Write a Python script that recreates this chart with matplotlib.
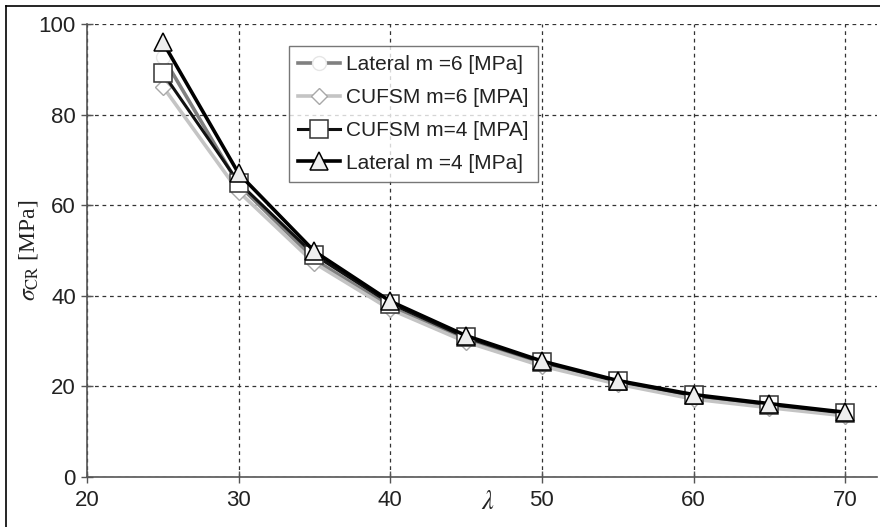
import matplotlib
matplotlib.use('Agg')
import matplotlib.pyplot as plt
from matplotlib.lines import Line2D

plt.rcParams['font.family'] = ['Liberation Sans', 'DejaVu Sans']
plt.rcParams['mathtext.fontset'] = 'stix'

# slenderness values on the x axis
lam = [25, 30, 35, 40, 45, 50, 55, 60, 65, 70]

# critical stresses [MPa]
lateral_m6 = [92.8, 64.5, 48.0, 37.5, 30.2, 25.0, 20.8, 17.6, 15.6, 13.8]
cufsm_m6 = [86.2, 63.0, 47.2, 37.0, 29.8, 24.5, 20.5, 17.2, 15.3, 13.5]
cufsm_m4 = [89.2, 65.0, 49.0, 38.3, 30.8, 25.4, 21.1, 18.0, 16.0, 14.1]
lateral_m4 = [96.0, 67.0, 49.8, 38.8, 31.2, 25.6, 21.3, 18.2, 16.2, 14.3]

labels = ['Lateral m =6 [MPa]', 'CUFSM m=6 [MPA]', 'CUFSM m=4 [MPA]', 'Lateral m =4 [MPa]']
xticks = [20, 30, 40, 50, 60, 70]
yticks = [0, 20, 40, 60, 80, 100]

fig = plt.figure(figsize=(8.8, 5.27), dpi=100)
ax = fig.add_axes([87/880, 1-477/527, 790/880, 453/527])

ax.plot(lam, lateral_m6, color='#808080', lw=2.6, marker='o', ms=10,
        mfc='white', mec='#e6e6e6', mew=1, label=labels[0])
ax.plot(lam, cufsm_m6, color='#c4c4c4', lw=2.6, marker='D', ms=8,
        mfc='white', mec='#a8a8a8', mew=1, label=labels[1])
ax.plot(lam, cufsm_m4, color='#111111', lw=2.2, marker='s', ms=13,
        mfc='white', mec='#333333', mew=1.1, label=labels[2])
ax.plot(lam, lateral_m4, color='black', lw=2.6, marker='^', ms=13,
        mfc='#eeeeee', mec='black', mew=1.1, label=labels[3])

ax.set_xlim(20, 72.1)
ax.set_ylim(0, 100)
ax.set_xticks(xticks)
ax.set_yticks(yticks)
ax.tick_params(direction='inout', length=8, width=1, color='#555555',
               labelsize=16, labelcolor='#222222')
ax.tick_params(axis='x', pad=5)
ax.tick_params(axis='y', pad=4)

for s in ['top', 'right']:
    ax.spines[s].set_visible(False)
for s in ['left', 'bottom']:
    ax.spines[s].set_color('#555555')
    ax.spines[s].set_linewidth(1.2)

ax.grid(True, linestyle=(0, (3, 3)), color='#333333', lw=0.9)
ax.set_axisbelow(True)

ax.set_ylabel(r'$\sigma_{\mathrm{CR}}$ [MPa]', fontfamily='Liberation Serif',
              fontsize=17, color='#222222')
ax.yaxis.set_label_coords(-0.06, 0.5)
ax.set_xlabel(r'$\lambda$', fontsize=19, color='#222222')
ax.xaxis.label.set_va('center')
ax.xaxis.set_label_coords(0.508, -0.056)

leg = ax.legend(loc='upper left', bbox_to_anchor=((289-87)/790, (477-46)/453),
                fontsize=15, frameon=True, fancybox=False, borderaxespad=0,
                handlelength=2.0, handletextpad=0.3, labelspacing=0.66,
                borderpad=0.45)
leg.get_frame().set_edgecolor('#555555')
leg.get_frame().set_linewidth(1)
for t in leg.get_texts():
    t.set_color('#222222')

# frame left over from the original figure border
fig.add_artist(Line2D([6/880, 6/880], [0, 1-6/527], color='black', lw=1.2))
fig.add_artist(Line2D([6/880, 1], [1-6/527, 1-6/527], color='black', lw=1.2))

fig.savefig('out.png', dpi=100)
